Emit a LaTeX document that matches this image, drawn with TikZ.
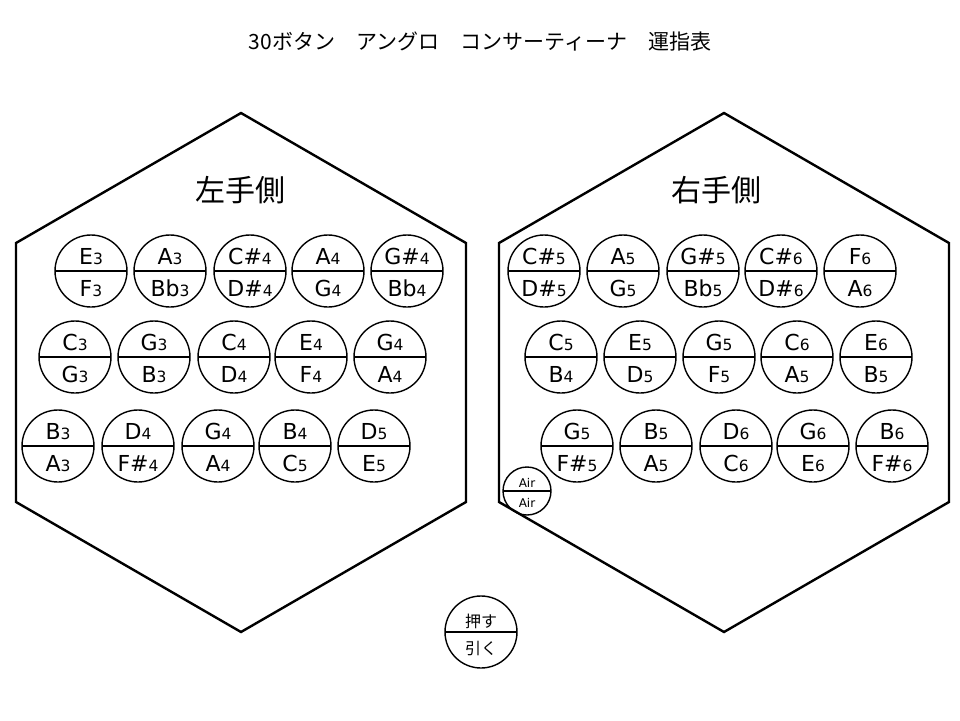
\documentclass[tikz,border=0pt]{standalone}
\usepackage{fontspec}
\usepackage{tikz}
\setmainfont{DejaVu Sans}
\newfontfamily\jp{Noto Sans CJK JP}
\newcommand\oct[1]{{\fontsize{15.5}{15.5}\selectfont #1}}
% two texts above and below the centre line, of no size of their own
\newcommand\pair[4]{\makebox[0pt]{\raisebox{#1}[0pt][0pt]{#3}}\makebox[0pt]{\raisebox{-#2}[0pt][0pt]{#4}}}
\newcommand\nt[2]{\pair{7pt}{25pt}{#1}{#2}}

\tikzset{
  key/.style={shape=circle,draw=black,line width=1.4pt,minimum size=72pt,inner sep=0pt,
    font=\fontsize{22}{22}\selectfont,
    path picture={\draw[line width=1.4pt] (path picture bounding box.west) -- (path picture bounding box.east);}},
  airkey/.style={key,minimum size=48pt,font=\fontsize{12}{12}\selectfont},
  legkey/.style={key,font=\jp\fontsize{16}{16}\selectfont},
  hexline/.style={draw=black,line width=2.4pt,line join=miter},
}

\begin{document}
\begin{tikzpicture}[x=1pt,y=-1pt]
\useasboundingbox (0,0) rectangle (960,720);

\node[font=\jp\fontsize{21}{21}\selectfont] (title) at (480,42) {30ボタン　アングロ　コンサーティーナ　運指表};

% left hand side
\draw[hexline] (16,243) -- (241,113) -- (466,243) -- (466,502) -- (241,632) -- (16,502) -- cycle;
\node[font=\jp\fontsize{30}{30}\selectfont] (lefttitle) at (240,190) {左手側};

\node[key] (L1) at (91,271) {\nt{E\oct3}{F\oct3}};
\node[key] (L2) at (170,271) {\nt{A\oct3}{Bb\oct3}};
\node[key] (L3) at (250,271) {\nt{C\#\oct4}{D\#\oct4}};
\node[key] (L4) at (328,271) {\nt{A\oct4}{G\oct4}};
\node[key] (L5) at (407,271) {\nt{G\#\oct4}{Bb\oct4}};

\node[key] (L6) at (75,357) {\nt{C\oct3}{G\oct3}};
\node[key] (L7) at (154,357) {\nt{G\oct3}{B\oct3}};
\node[key] (L8) at (234,357) {\nt{C\oct4}{D\oct4}};
\node[key] (L9) at (311,357) {\nt{E\oct4}{F\oct4}};
\node[key] (L10) at (390,357) {\nt{G\oct4}{A\oct4}};

\node[key] (L11) at (58,446) {\nt{B\oct3}{A\oct3}};
\node[key] (L12) at (138,446) {\nt{D\oct4}{F\#\oct4}};
\node[key] (L13) at (218,446) {\nt{G\oct4}{A\oct4}};
\node[key] (L14) at (295,446) {\nt{B\oct4}{C\oct5}};
\node[key] (L15) at (374,446) {\nt{D\oct5}{E\oct5}};

% right hand side
\draw[hexline] (499,243) -- (724,113) -- (949,243) -- (949,502) -- (724,632) -- (499,502) -- cycle;
\node[font=\jp\fontsize{30}{30}\selectfont] (righttitle) at (716,190) {右手側};

\node[key] (R1) at (544,271) {\nt{C\#\oct5}{D\#\oct5}};
\node[key] (R2) at (623,271) {\nt{A\oct5}{G\oct5}};
\node[key] (R3) at (703,271) {\nt{G\#\oct5}{Bb\oct5}};
\node[key] (R4) at (781,271) {\nt{C\#\oct6}{D\#\oct6}};
\node[key] (R5) at (860,271) {\nt{F\oct6}{A\oct6}};

\node[key] (R6) at (561,357) {\nt{C\oct5}{B\oct4}};
\node[key] (R7) at (640,357) {\nt{E\oct5}{D\oct5}};
\node[key] (R8) at (719,357) {\nt{G\oct5}{F\oct5}};
\node[key] (R9) at (797,357) {\nt{C\oct6}{A\oct5}};
\node[key] (R10) at (876,357) {\nt{E\oct6}{B\oct5}};

\node[key] (R11) at (577,446) {\nt{G\oct5}{F\#\oct5}};
\node[key] (R12) at (656,446) {\nt{B\oct5}{A\oct5}};
\node[key] (R13) at (736,446) {\nt{D\oct6}{C\oct6}};
\node[key] (R14) at (813,446) {\nt{G\oct6}{E\oct6}};
\node[key] (R15) at (892,446) {\nt{B\oct6}{F\#\oct6}};

\node[airkey] (Air) at (527,491) {\pair{4pt}{16pt}{Air}{Air}};

% legend
\node[legkey] (Leg) at (481,632) {\pair{5pt}{22pt}{押す}{引く}};

\end{tikzpicture}
\end{document}
